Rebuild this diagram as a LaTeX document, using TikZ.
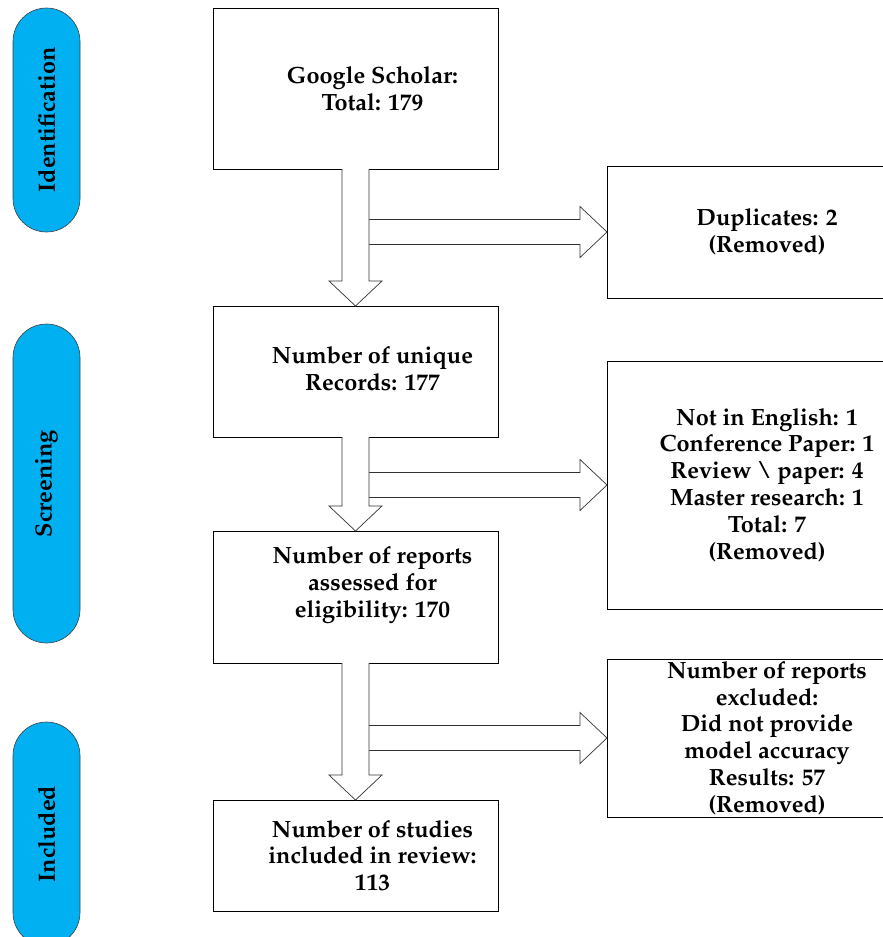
\documentclass[tikz,border=0pt]{standalone}
\usepackage[T1]{fontenc}
\usepackage{mathpazo}
\usetikzlibrary{calc}
\definecolor{phaseblue}{HTML}{00B0F0}
\newcommand{\downflow}[2]{%
	\draw[flow] ($(#1.south)+(-13.5,0)$) -- ($(#2.north)+(-13.5,-25)$) -- ++(-13,0) -- (#2.north) -- ++(26.5,-25) -- ++(-13,0) -- ($(#1.south)+(13.5,0)$);}
\newcommand{\sideflow}[2]{%
	\path ($(#1.south)+(13.5,0)$) |- coordinate (s) (#2.west);
	\draw[flow] ($(s)+(0,-12.5)$) -- ($(#2.west)+(-27,-12.5)$) -- ++(0,-13) -- (#2.west) -- ++(-27,25.5) -- ++(0,-13) -- ($(s)+(0,12.5)$);}
\begin{document}
\begin{tikzpicture}[x=1pt,y=-1pt,
	every node/.style={font=\fontsize{23.5}{26.8}\selectfont\bfseries, align=center},
	phase/.style={draw=black!75, fill=phaseblue, rotate=90, minimum width=224, minimum height=67, rounded corners=33.5, inner sep=0, outer sep=0, line width=0.6pt},
	stage/.style={draw, minimum width=285, inner sep=0, outer sep=0, line width=0.8pt},
	outcome/.style={draw, minimum width=320, inner sep=0, outer sep=0, line width=0.8pt},
	flow/.style={draw=black!80, fill=white, line width=0.7pt}]
	\useasboundingbox (0,0) rectangle (883,937);
	\clip (0,0) rectangle (883,937);
	\node[phase] (ident) at (46.5,120) {Identification};
	\node[phase, minimum width=319] (screen) at (46.5,483.5) {Screening};
	\node[phase] (incl) at (46.5,834) {Included};
	\node[stage, minimum height=161] (scholar) at (355.5,88.5) {};
	\node[stage, minimum height=131] (unique) at (355.5,371.5) {};
	\node[stage, minimum height=132] (assessed) at (355.5,597) {};
	\node[stage, minimum height=111] (studies) at (355.5,855.5) {};
	\node (scholartxt) at ($(scholar)+(17,0)$) {Google Scholar:\\Total: 179};
	\node (uniquetxt) at ($(unique)+(17,-3)$) {Number of unique\\Records: 177};
	\node (assessedtxt) at ($(assessed)+(17,-12)$) {Number of reports\\assessed for\\eligibility: 170};
	\node (studiestxt) at ($(studies)+(17,0)$) {Number of studies\\included in review:\\113};
	\node[outcome, minimum height=132] (dupl) at (767,232) {Duplicates: 2\\(Removed)};
	\node[outcome, minimum height=248] (screenout) at (767,485) {Not in English: 1\\Conference Paper: 1\\Review \textbackslash\ paper: 4\\Master research: 1\\Total: 7\\(Removed)};
	\node[outcome, minimum height=158] (excl) at (767,738) {Number of reports\\excluded:\\Did not provide\\model accuracy\\Results: 57\\(Removed)};
	\sideflow{scholar}{dupl}
	\downflow{scholar}{unique}
	\sideflow{unique}{screenout}
	\downflow{unique}{assessed}
	\sideflow{assessed}{excl}
	\downflow{assessed}{studies}
\end{tikzpicture}
\end{document}
